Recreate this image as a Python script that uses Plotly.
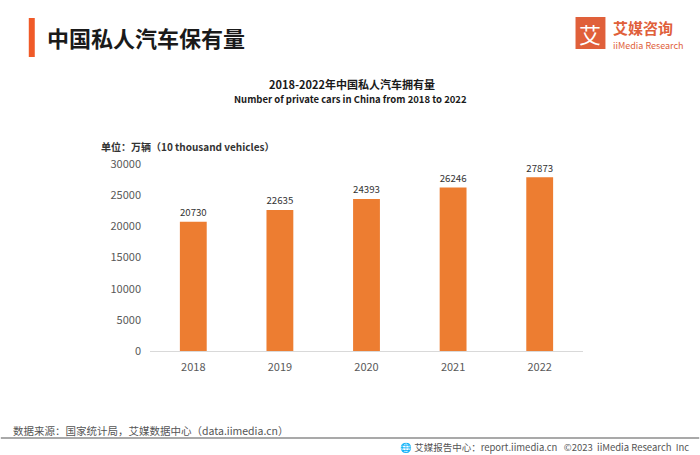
import plotly.graph_objects as go

years = ["2018", "2019", "2020", "2021", "2022"]
cars = [20730, 22635, 24393, 26246, 27873]
y_ticks = [0, 5000, 10000, 15000, 20000, 25000, 30000]

BAR = "#ED7D31"
FONT = "Noto Sans CJK SC"

fig = go.Figure(go.Bar(
    x=years, y=cars, marker_color=BAR, marker_line_width=0,
    text=[str(v) for v in cars], textposition="outside",
    textfont=dict(size=11, color="#333333", family=FONT),
    cliponaxis=False, width=0.31,
))

W, H = 700, 455
L, R = 149.5, 583.5
T, B = 164, 351

fig.update_layout(
    width=W, height=H, autosize=False,
    paper_bgcolor="white", plot_bgcolor="white",
    margin=dict(l=L, r=W - R, t=T, b=H - B),
    font=dict(family=FONT, color="#333333"),
    showlegend=False,
    xaxis=dict(showgrid=False, showline=True, linecolor="#D9D9D9", linewidth=1,
               ticks="", tickfont=dict(size=11, color="#595959"), ticklabelstandoff=6),
    yaxis=dict(range=[0, 30000], tickvals=y_ticks, tickformat="d", showgrid=False, zeroline=False,
               showline=False, tickfont=dict(size=11, color="#595959"), ticklabelstandoff=8),
)

def px(x):
    return (x - L) / (R - L)
def py(y):
    return (B - y) / (B - T)

fig.update_layout(shapes=[
    dict(type="rect", xref="paper", yref="paper", x0=px(28), x1=px(34), y0=py(57), y1=py(18),
         fillcolor="#F05A28", line_width=0),
    dict(type="rect", xref="paper", yref="paper", x0=px(576), x1=px(606), y0=py(49), y1=py(17),
         fillcolor="#E0603A", line_width=0),
    dict(type="line", xref="paper", yref="paper", x0=px(0), x1=px(700), y0=py(438), y1=py(438),
         line=dict(color="#8C8C8C", width=1.5)),
])

ann = [
    dict(text="<b>中国私人汽车保有量</b>", x=px(44), y=py(37), xanchor="left", yanchor="middle",
         font=dict(size=22, color="#1a1a1a")),
    dict(text="艾", x=px(591), y=py(33), xanchor="center", yanchor="middle",
         font=dict(size=22, color="white")),
    dict(text="<b>艾媒咨询</b>", x=px(612), y=py(27), xanchor="left", yanchor="middle",
         font=dict(size=15, color="#E0603A")),
    dict(text="iiMedia Research", x=px(612), y=py(46), xanchor="left", yanchor="middle",
         font=dict(size=9, color="#E0603A")),
    dict(text="<b>2018-2022年中国私人汽车拥有量</b>", x=px(352), y=py(84), xanchor="center", yanchor="middle",
         font=dict(size=11, color="#1a1a1a")),
    dict(text="<b>Number of private cars in China from 2018 to 2022</b>", x=px(350), y=py(99),
         xanchor="center", yanchor="middle", font=dict(size=9.5, color="#1a1a1a")),
    dict(text="<b>单位：万辆（10 thousand vehicles）</b>", x=px(98), y=py(146), xanchor="left", yanchor="middle",
         font=dict(size=10, color="#333333")),
    dict(text="数据来源：国家统计局，艾媒数据中心（data.iimedia.cn）", x=px(10), y=py(430),
         xanchor="left", yanchor="middle", font=dict(size=10.5, color="#555555")),
    dict(text="🌐 艾媒报告中心：report.iimedia.cn   ©2023  iiMedia Research  Inc", x=px(692), y=py(447),
         xanchor="right", yanchor="middle", font=dict(size=9.5, color="#555555")),
]
for a in ann:
    a.update(xref="paper", yref="paper", showarrow=False)
fig.update_layout(annotations=ann)

fig.write_html("out.html", config={"displayModeBar": False},
               post_script="document.body.style.margin='0';document.body.style.overflow='hidden';")
